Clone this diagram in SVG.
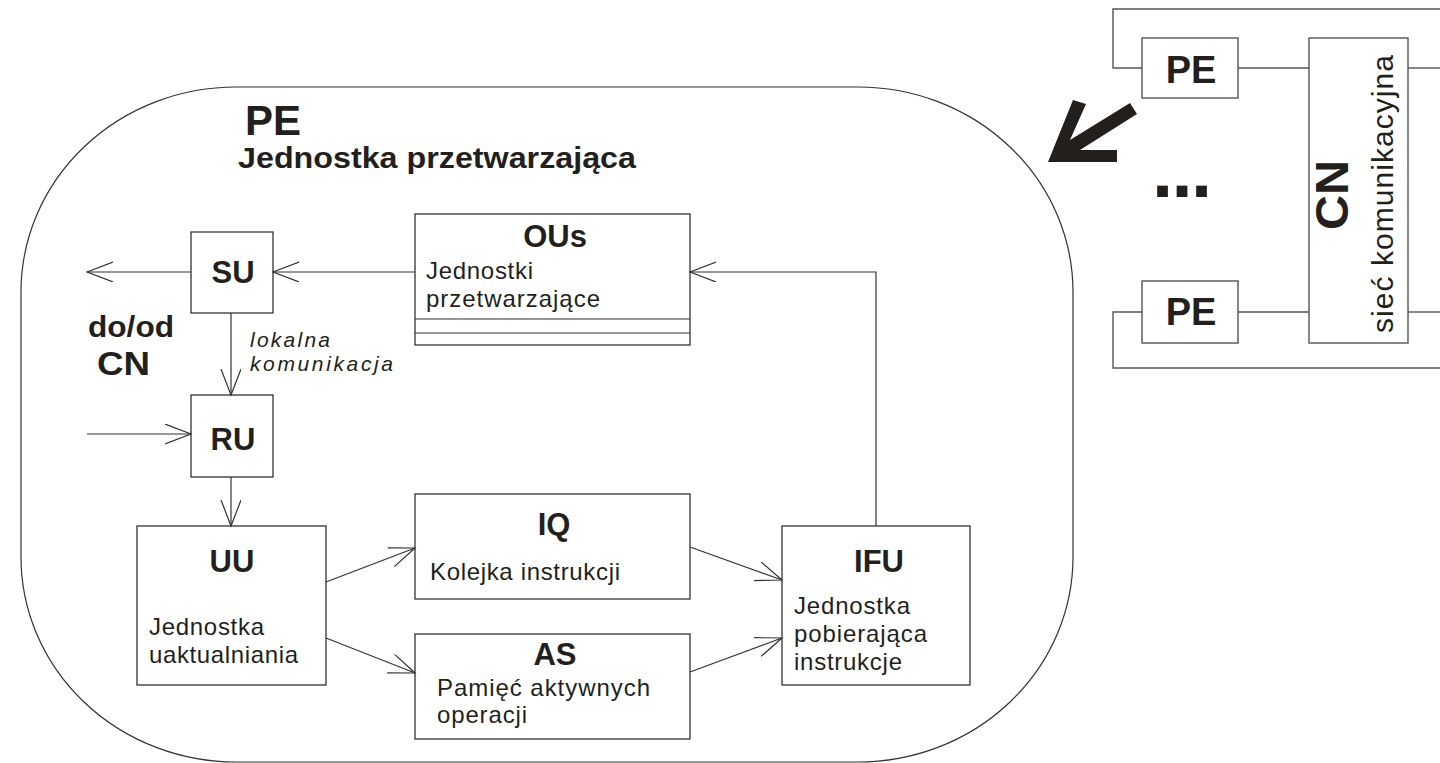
<svg xmlns="http://www.w3.org/2000/svg" width="1440" height="763" viewBox="0 0 1440 763">
<defs>
<style>
.box{fill:#fff;stroke:#333;stroke-width:1.3}
.gbox{fill:#fff;stroke:#555;stroke-width:1.4}
.ln{fill:none;stroke:#333;stroke-width:1.2}
.gln{fill:none;stroke:#555;stroke-width:1.4}
.t{font-family:"Liberation Sans",Arial,sans-serif;fill:#231f1c}
.b{font-weight:bold}
.body{font-size:24px}
.ttl{font-size:31px;font-weight:bold;text-anchor:middle}
</style>
<marker id="ah" markerUnits="userSpaceOnUse" markerWidth="30" markerHeight="24" refX="26" refY="10" orient="auto">
<path d="M0,0 L26,10 L0,20" fill="none" stroke="#333" stroke-width="1.2"/>
</marker>
</defs>

<g id="pe-frame">
<rect x="21" y="87" width="1052" height="675" rx="215" ry="205" fill="none" stroke="#333" stroke-width="1.2"/>
<text class="t b" x="245" y="135" font-size="42">PE</text>
<text class="t b" x="238" y="168" font-size="30" textLength="398" lengthAdjust="spacingAndGlyphs">Jednostka przetwarzająca</text>
</g>

<g id="SU">
<rect class="box" x="191" y="232" width="82" height="81"/>
<text class="t ttl" x="233" y="283" font-size="30">SU</text>
</g>

<g id="OUs">
<rect class="box" x="415" y="214" width="275" height="131"/>
<line class="ln" x1="415" y1="319" x2="690" y2="319"/>
<line class="ln" x1="415" y1="333" x2="690" y2="333"/>
<text class="t ttl" x="555" y="247" font-size="30">OUs</text>
<text class="t body" x="426" y="279" textLength="107">Jednostki</text>
<text class="t body" x="426" y="307" textLength="174">przetwarzające</text>
</g>

<g id="RU">
<rect class="box" x="191" y="395" width="82" height="82"/>
<text class="t ttl" x="233" y="450" font-size="37">RU</text>
</g>

<g id="UU">
<rect class="box" x="137" y="526" width="189" height="159"/>
<text class="t ttl" x="232" y="572">UU</text>
<text class="t body" x="149" y="635" textLength="115">Jednostka</text>
<text class="t body" x="149" y="663" textLength="149">uaktualniania</text>
</g>

<g id="IQ">
<rect class="box" x="415" y="494" width="275" height="105"/>
<text class="t ttl" x="554" y="535">IQ</text>
<text class="t body" x="430" y="580" textLength="190">Kolejka instrukcji</text>
</g>

<g id="AS">
<rect class="box" x="415" y="634" width="275" height="105"/>
<text class="t ttl" x="555" y="665">AS</text>
<text class="t body" x="437" y="696" textLength="213">Pamięć aktywnych</text>
<text class="t body" x="437" y="723" textLength="90">operacji</text>
</g>

<g id="IFU">
<rect class="box" x="782" y="526" width="188" height="159"/>
<text class="t ttl" x="879" y="572" font-size="32">IFU</text>
<text class="t body" x="794" y="614" textLength="116">Jednostka</text>
<text class="t body" x="794" y="642" textLength="133">pobierająca</text>
<text class="t body" x="794" y="670" textLength="108">instrukcje</text>
</g>

<g id="labels">
<text class="t b" x="88" y="337" font-size="30" textLength="86" lengthAdjust="spacingAndGlyphs">do/od</text>
<text class="t b" x="97" y="375" font-size="34" textLength="53" lengthAdjust="spacingAndGlyphs">CN</text>
<text class="t" x="250" y="347" font-size="21" font-style="italic" textLength="80">lokalna</text>
<text class="t" x="250" y="371" font-size="21" font-style="italic" textLength="143">komunikacja</text>
</g>

<g id="connectors">
<line class="ln" x1="191" y1="272" x2="87" y2="272" marker-end="url(#ah)"/>
<line class="ln" x1="415" y1="272" x2="273" y2="272" marker-end="url(#ah)"/>
<line class="ln" x1="231" y1="313" x2="231" y2="395" marker-end="url(#ah)"/>
<line class="ln" x1="87" y1="434" x2="191" y2="434" marker-end="url(#ah)"/>
<line class="ln" x1="231" y1="477" x2="231" y2="526" marker-end="url(#ah)"/>
<line class="ln" x1="326" y1="582" x2="415" y2="548" marker-end="url(#ah)"/>
<line class="ln" x1="326" y1="638" x2="415" y2="673" marker-end="url(#ah)"/>
<line class="ln" x1="690" y1="547" x2="782" y2="580" marker-end="url(#ah)"/>
<line class="ln" x1="690" y1="672" x2="782" y2="638" marker-end="url(#ah)"/>
<polyline class="ln" points="876,526 876,272 690,272" marker-end="url(#ah)"/>
</g>

<g id="big-arrow">
<polygon points="1048,162 1117,162 1117,150 1080,150 1137,114 1130,103 1070,140 1086,104 1073,100" fill="#231f1c"/>
</g>

<g id="system-links">
<polyline class="gln" points="1440,9 1113,9 1113,68 1142,68"/>
<line class="gln" x1="1238" y1="68" x2="1309" y2="68"/>
<line class="gln" x1="1408" y1="68" x2="1440" y2="68"/>
<polyline class="gln" points="1142,312 1113,312 1113,368 1440,368"/>
<line class="gln" x1="1238" y1="312" x2="1309" y2="312"/>
<line class="gln" x1="1408" y1="312" x2="1440" y2="312"/>
</g>

<g id="PE1">
<rect class="gbox" x="1142" y="38" width="96" height="60"/>
<text class="t b" x="1191" y="83" font-size="38" text-anchor="middle">PE</text>
</g>

<g id="PE2">
<rect class="gbox" x="1142" y="281" width="96" height="62"/>
<text class="t b" x="1191" y="325" font-size="38" text-anchor="middle">PE</text>
</g>

<g id="dots">
<text class="t b" x="1152" y="197" font-size="76" textLength="60">...</text>
</g>

<g id="CN">
<rect class="gbox" x="1309" y="38" width="99" height="305"/>
<text class="t b" transform="translate(1348,195) rotate(-90)" x="0" y="0" font-size="46" text-anchor="middle" textLength="70" lengthAdjust="spacingAndGlyphs">CN</text>
<text class="t" transform="translate(1393,333) rotate(-90)" x="0" y="0" font-size="30" textLength="278">sieć komunikacyjna</text>
</g>
</svg>
